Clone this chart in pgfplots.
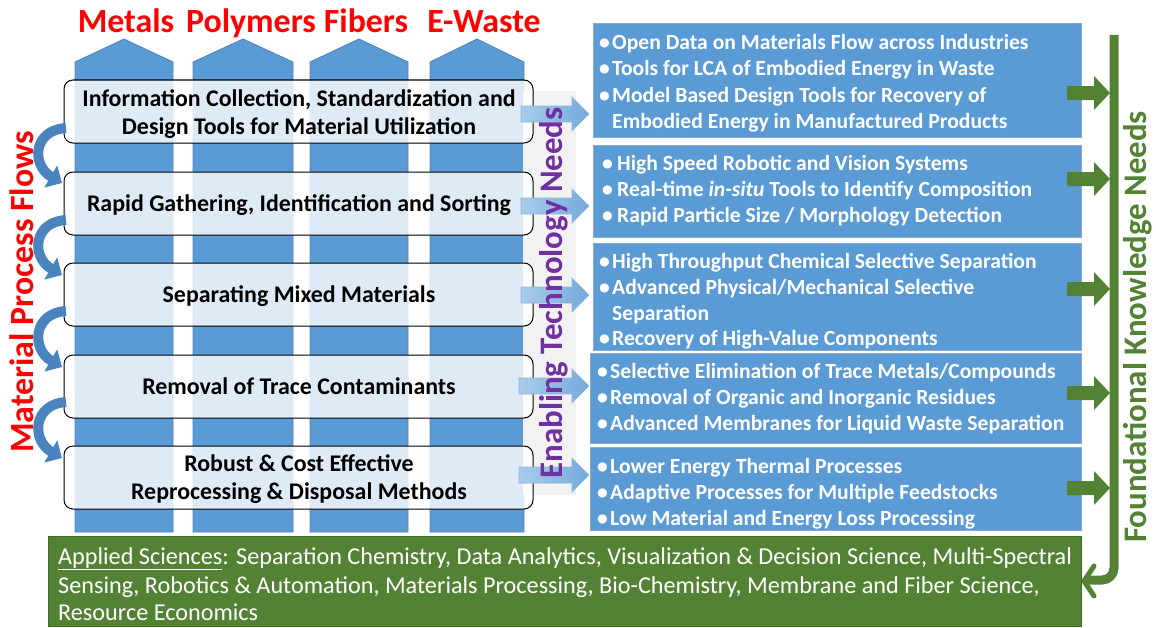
\documentclass[border=0pt]{standalone}
\usepackage{fontspec}
\setmainfont{Carlito}
\usepackage{pgfplots}
\pgfplotsset{compat=1.18}
\usetikzlibrary{arrows.meta}
\definecolor{cblue}{HTML}{5B9BD5}
\definecolor{cblueD}{HTML}{4A84BF}
\definecolor{cblueE}{HTML}{41719C}
\definecolor{lblue}{HTML}{A9CBEA}
\definecolor{cgreen}{HTML}{548235}
\definecolor{cpurple}{HTML}{7030A0}
\definecolor{cgray}{HTML}{F2F2F2}
\begin{document}
\begin{tikzpicture}
\begin{axis}[
  width=1156bp, height=627bp, scale only axis,
  xmin=0, xmax=1156, ymin=0, ymax=627, y dir=reverse,
  hide axis, clip=false, no markers,
]
% frame that fixes the page size
\addplot[draw=none, forget plot] coordinates {(0,0) (1156,627)};
% ---------- columns ----------
\addplot[fill=cblue, draw=cblueD, line width=0.8bp] coordinates {(75,532) (75,62) (124,39) (173,62) (173,532)} -- cycle;
\addplot[fill=cblue, draw=cblueD, line width=0.8bp] coordinates {(193,532) (193,62) (243,39) (293,62) (293,532)} -- cycle;
\addplot[fill=cblue, draw=cblueD, line width=0.8bp] coordinates {(310,532) (310,62) (359,39) (408,62) (408,532)} -- cycle;
\addplot[fill=cblue, draw=cblueD, line width=0.8bp] coordinates {(430,532) (430,62) (477,39) (524,62) (524,532)} -- cycle;
% ---------- gray band ----------
\addplot[fill=cgray, draw=none] coordinates {(523,91) (576,91) (576,495) (523,495)} -- cycle;
% ---------- process boxes ----------
\addplot[fill=white, fill opacity=0.8, draw=black, line width=1bp, rounded corners=9bp] coordinates {(64,80) (533,80) (533,143) (64,143)} -- cycle;
\addplot[fill=white, fill opacity=0.8, draw=black, line width=1bp, rounded corners=9bp] coordinates {(64,172) (533,172) (533,235) (64,235)} -- cycle;
\addplot[fill=white, fill opacity=0.8, draw=black, line width=1bp, rounded corners=9bp] coordinates {(64,263) (533,263) (533,326) (64,326)} -- cycle;
\addplot[fill=white, fill opacity=0.8, draw=black, line width=1bp, rounded corners=9bp] coordinates {(64,355) (533,355) (533,418) (64,418)} -- cycle;
\addplot[fill=white, fill opacity=0.8, draw=black, line width=1bp, rounded corners=9bp] coordinates {(64,446) (533,446) (533,509) (64,509)} -- cycle;
% ---------- process box texts ----------
\begin{scope}[every node/.style={font=\fontsize{24}{27}\selectfont\bfseries, text=black, anchor=base, inner sep=0pt}]
\node at (axis cs:299,106) {Information Collection, Standardization and};
\node at (axis cs:299,134) {Design Tools for Material Utilization};
\node at (axis cs:299,211) {Rapid Gathering, Identification and Sorting};
\node at (axis cs:299,302) {Separating Mixed Materials};
\node at (axis cs:299,394) {Removal of Trace Contaminants};
\node at (axis cs:299,471) {Robust \& Cost Effective};
\node at (axis cs:299,499) {Reprocessing \& Disposal Methods};
\end{scope}
% ---------- light blue arrows ----------
\addplot[left color=lblue, right color=cblue!85, draw=cblue!70, line width=0.6bp] coordinates {(521,106) (572,106) (572,97) (589,114) (572,131) (572,122) (521,122)} -- cycle;
\addplot[left color=lblue, right color=cblue!85, draw=cblue!70, line width=0.6bp] coordinates {(521,198) (572,198) (572,189) (589,206) (572,223) (572,214) (521,214)} -- cycle;
\addplot[left color=lblue, right color=cblue!85, draw=cblue!70, line width=0.6bp] coordinates {(521,287) (572,287) (572,278) (589,295) (572,312) (572,303) (521,303)} -- cycle;
\addplot[left color=lblue, right color=cblue!85, draw=cblue!70, line width=0.6bp] coordinates {(519,378) (572,378) (572,369) (589,386) (572,403) (572,394) (519,394)} -- cycle;
\addplot[left color=lblue, right color=cblue!85, draw=cblue!70, line width=0.6bp] coordinates {(519,467) (572,467) (572,458) (589,475) (572,492) (572,483) (519,483)} -- cycle;
% ---------- Enabling Technology Needs ----------
\node[rotate=90, anchor=base, inner sep=0pt, text=cpurple, font=\fontsize{33}{36}\selectfont\bfseries] at (axis cs:562,293) {Enabling Technology Needs};
% ---------- right blue boxes ----------
\addplot[fill=cblue, draw=cblueE!60, line width=1bp] coordinates {(593,24) (1081,24) (1081,137) (593,137)} -- cycle;
\addplot[fill=cblue, draw=cblueE!60, line width=1bp] coordinates {(593,145) (1081,145) (1081,237) (593,237)} -- cycle;
\addplot[fill=cblue, draw=cblueE!60, line width=1bp] coordinates {(593,243) (1081,243) (1081,350) (593,350)} -- cycle;
\addplot[fill=cblue, draw=cblueE!60, line width=1bp] coordinates {(590,353) (1081,353) (1081,443) (590,443)} -- cycle;
\addplot[fill=cblue, draw=cblueE!60, line width=1bp] coordinates {(590,447) (1081,447) (1081,530) (590,530)} -- cycle;
% ---------- right box texts ----------
\begin{scope}[every node/.style={font=\fontsize{21.7}{24}\selectfont\bfseries, text=white, anchor=base west, inner sep=0pt}]
\node at (axis cs:599,50) {•}; \node at (axis cs:612,50) {Open Data on Materials Flow across Industries};
\node at (axis cs:599,76) {•}; \node at (axis cs:612,76) {Tools for LCA of Embodied Energy in Waste};
\node at (axis cs:599,102) {•}; \node at (axis cs:612,102) {Model Based Design Tools for Recovery of};
\node at (axis cs:612,128) {Embodied Energy in Manufactured Products};
\node at (axis cs:602,170) {•}; \node at (axis cs:617,170) {High Speed Robotic and Vision Systems};
\node at (axis cs:602,196) {•}; \node at (axis cs:617,196) {Real-time \textit{in-situ} Tools to Identify Composition};
\node at (axis cs:602,222) {•}; \node at (axis cs:617,222) {Rapid Particle Size / Morphology Detection};
\node at (axis cs:599,268) {•}; \node at (axis cs:612,268) {High Throughput Chemical Selective Separation};
\node at (axis cs:599,294) {•}; \node at (axis cs:612,294) {Advanced Physical/Mechanical Selective};
\node at (axis cs:612,320) {Separation};
\node at (axis cs:599,345) {•}; \node at (axis cs:612,345) {Recovery of High-Value Components};
\node at (axis cs:597,378) {•}; \node at (axis cs:610,378) {Selective Elimination of Trace Metals/Compounds};
\node at (axis cs:597,404) {•}; \node at (axis cs:610,404) {Removal of Organic and Inorganic Residues};
\node at (axis cs:597,430) {•}; \node at (axis cs:610,430) {Advanced Membranes for Liquid Waste Separation};
\node at (axis cs:597,473) {•}; \node at (axis cs:610,473) {Lower Energy Thermal Processes};
\node at (axis cs:597,499) {•}; \node at (axis cs:610,499) {Adaptive Processes for Multiple Feedstocks};
\node at (axis cs:597,525) {•}; \node at (axis cs:610,525) {Low Material and Energy Loss Processing};
\end{scope}
% ---------- green arrows ----------
\addplot[fill=cgreen, draw=none] coordinates {(1067,86) (1094,86) (1094,76) (1110,93) (1094,110) (1094,100) (1067,100)} -- cycle;
\addplot[fill=cgreen, draw=none] coordinates {(1067,172) (1094,172) (1094,162) (1110,179) (1094,196) (1094,186) (1067,186)} -- cycle;
\addplot[fill=cgreen, draw=none] coordinates {(1067,282) (1094,282) (1094,272) (1110,289) (1094,306) (1094,296) (1067,296)} -- cycle;
\addplot[fill=cgreen, draw=none] coordinates {(1067,386) (1094,386) (1094,376) (1110,393) (1094,410) (1094,400) (1067,400)} -- cycle;
\addplot[fill=cgreen, draw=none] coordinates {(1067,481) (1094,481) (1094,471) (1110,488) (1094,505) (1094,495) (1067,495)} -- cycle;
% ---------- green vertical connector ----------
\addplot[draw=cgreen, line width=9bp, rounded corners=12bp] coordinates {(1114,35) (1114,580) (1086,580)};
\addplot[draw=cgreen, line width=5bp, line cap=round] coordinates {(1094,566) (1084,581) (1094,596)};
% ---------- bottom green box ----------
\addplot[fill=cgreen, draw=cgreen!80!black, line width=0.8bp] coordinates {(48,536) (1081,536) (1081,626) (48,626)} -- cycle;
\begin{scope}[every node/.style={font=\fontsize{24.3}{28}\selectfont, text=white, anchor=base west, inner sep=0pt}]
\node at (axis cs:58,564) {\underline{Applied Sciences}: Separation Chemistry, Data Analytics, Visualization \& Decision Science, Multi-Spectral};
\node at (axis cs:58,593) {Sensing, Robotics \& Automation, Materials Processing, Bio-Chemistry, Membrane and Fiber Science,};
\node at (axis cs:58,620) {Resource Economics};
\end{scope}
% ---------- curved arrows on left ----------
\draw[cblueD, line width=10bp, -{Triangle[length=13bp,width=25bp]}] (axis cs:66,128) .. controls (axis cs:33,130) and (axis cs:31,165) .. (axis cs:62,183);
\draw[cblueD, line width=10bp, -{Triangle[length=13bp,width=25bp]}] (axis cs:66,220) .. controls (axis cs:33,222) and (axis cs:31,257) .. (axis cs:62,275);
\draw[cblueD, line width=10bp, -{Triangle[length=13bp,width=25bp]}] (axis cs:66,311) .. controls (axis cs:33,313) and (axis cs:31,349) .. (axis cs:62,367);
\draw[cblueD, line width=10bp, -{Triangle[length=13bp,width=25bp]}] (axis cs:66,402) .. controls (axis cs:33,404) and (axis cs:31,440) .. (axis cs:62,458);
% ---------- titles ----------
\begin{scope}[every node/.style={font=\fontsize{34}{36}\selectfont\bfseries, text=red, anchor=base, inner sep=0pt}]
\node at (axis cs:126,33) {Metals};
\node at (axis cs:251,33) {Polymers};
\node at (axis cs:366,33) {Fibers};
\node at (axis cs:484,33) {E-Waste};
\end{scope}
\node[rotate=90, anchor=base, inner sep=0pt, text=red, font=\fontsize{34}{36}\selectfont\bfseries] at (axis cs:33,292) {Material Process Flows};
\node[rotate=90, anchor=base, inner sep=0pt, text=cgreen, font=\fontsize{33}{36}\selectfont\bfseries] at (axis cs:1146,327) {Foundational Knowledge Needs};
\end{axis}
\end{tikzpicture}
\end{document}
